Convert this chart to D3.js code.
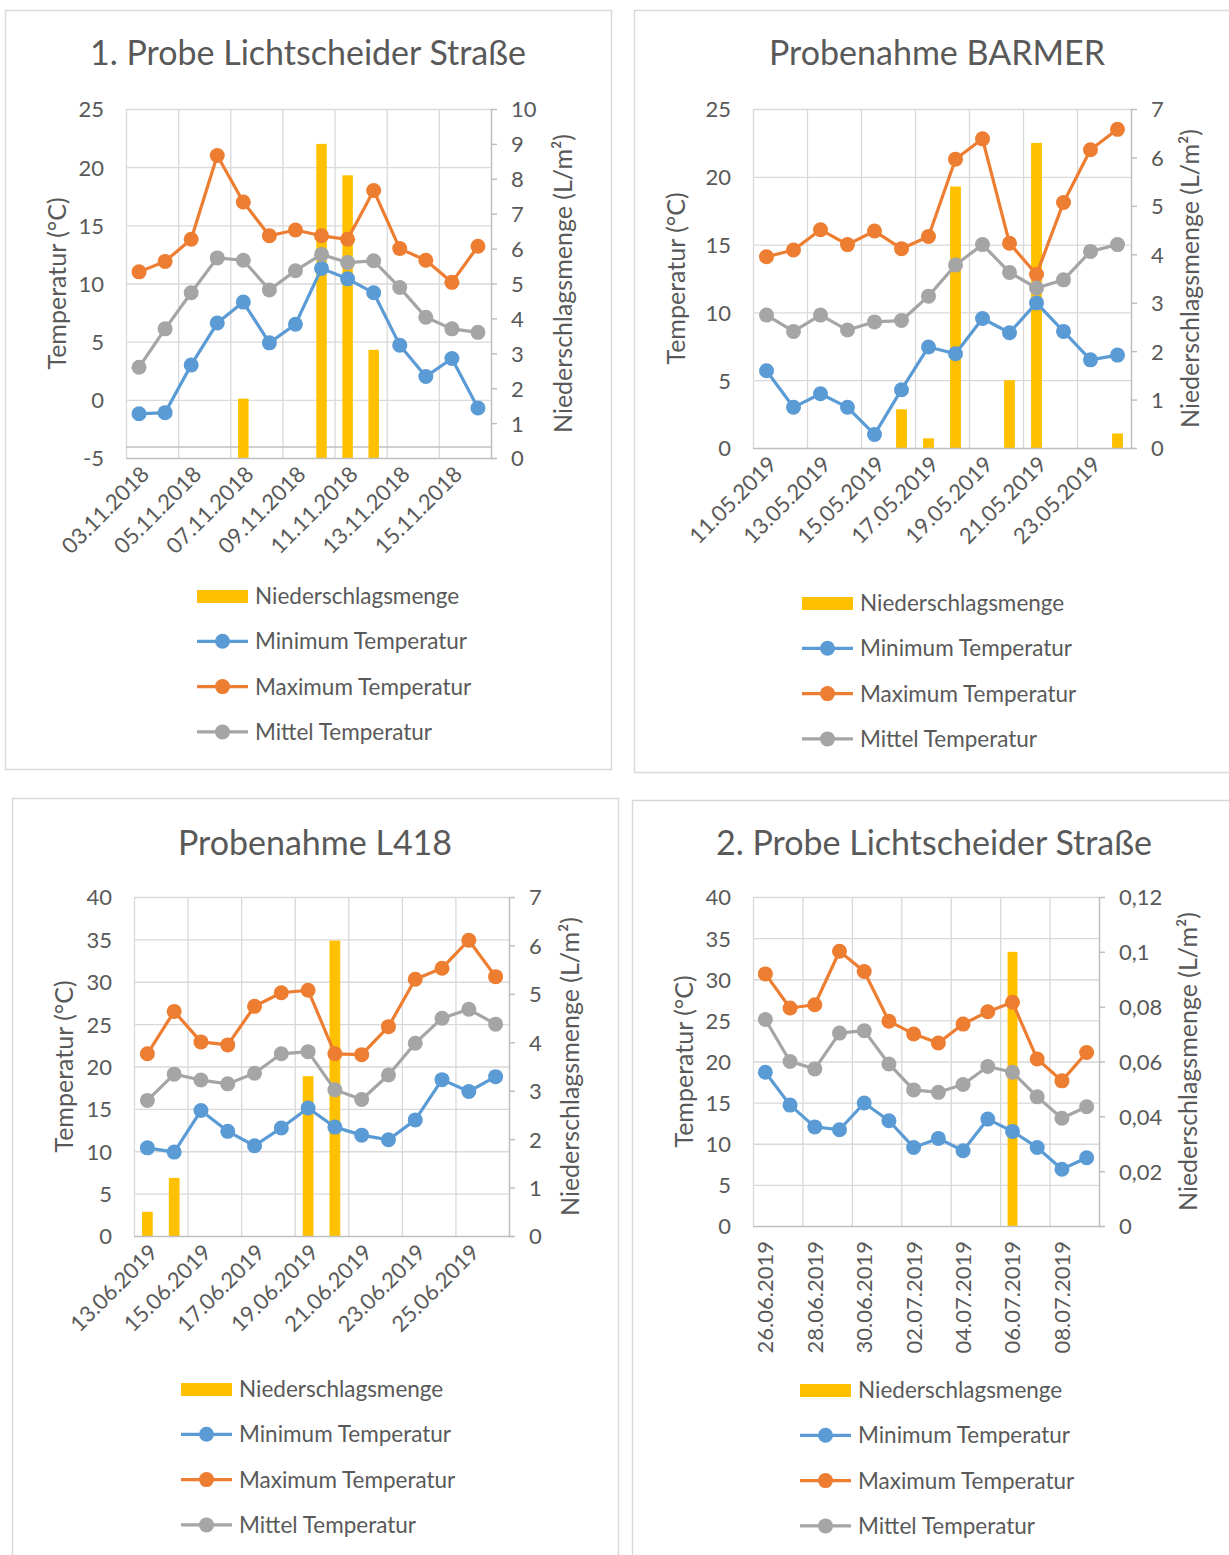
<!DOCTYPE html>
<html>
<head>
<meta charset="utf-8">
<script src="https://cdn.jsdelivr.net/npm/d3@7"></script>
<style>
  body { margin: 0; background: #fff; }
  svg text { font-family: Lato, "Open Sans", sans-serif; fill: #595959; }
</style>
</head>
<body>
<svg id="board" width="1229" height="1555"></svg>
<script>
// ---- 1. Probe Lichtscheider Straße (November 2018) ----
const dates1 = ["03.11.2018","04.11.2018","05.11.2018","06.11.2018","07.11.2018","08.11.2018","09.11.2018",
                "10.11.2018","11.11.2018","12.11.2018","13.11.2018","14.11.2018","15.11.2018","16.11.2018"];
const xLabels1 = ["03.11.2018","05.11.2018","07.11.2018","09.11.2018","11.11.2018","13.11.2018","15.11.2018"];
const rain1  = [0, 0, 0, 0, 1.7, 0, 0, 9.0, 8.1, 3.1, 0, 0, 0, 0];
const tmin1  = [-1.2, -1.1, 3.0, 6.6, 8.4, 4.9, 6.5, 11.3, 10.4, 9.2, 4.7, 2.0, 3.55, -0.7];
const tmax1  = [11.0, 11.9, 13.8, 21.0, 17.0, 14.1, 14.6, 14.1, 13.8, 18.0, 13.0, 12.0, 10.1, 13.2];
const tmean1 = [2.8, 6.1, 9.2, 12.2, 12.0, 9.45, 11.1, 12.5, 11.8, 11.95, 9.65, 7.1, 6.1, 5.8];
const tempTicks1 = [-5, 0, 5, 10, 15, 20, 25];
const rainTicks1 = [0, 1, 2, 3, 4, 5, 6, 7, 8, 9, 10];

// ---- Probenahme BARMER (May 2019) ----
const dates2 = ["11.05.2019","12.05.2019","13.05.2019","14.05.2019","15.05.2019","16.05.2019","17.05.2019",
                "18.05.2019","19.05.2019","20.05.2019","21.05.2019","22.05.2019","23.05.2019","24.05.2019"];
const xLabels2 = ["11.05.2019","13.05.2019","15.05.2019","17.05.2019","19.05.2019","21.05.2019","23.05.2019"];
const rain2  = [0, 0, 0, 0, 0, 0.8, 0.2, 5.4, 0, 1.4, 6.3, 0, 0, 0.3];
const tmin2  = [5.7, 3.0, 4.0, 3.0, 1.0, 4.3, 7.45, 6.95, 9.55, 8.5, 10.7, 8.6, 6.5, 6.85];
const tmax2  = [14.1, 14.6, 16.1, 15.0, 16.0, 14.7, 15.6, 21.3, 22.8, 15.1, 12.8, 18.1, 22.0, 23.5];
const tmean2 = [9.8, 8.6, 9.8, 8.7, 9.3, 9.4, 11.2, 13.5, 15.0, 12.95, 11.8, 12.4, 14.5, 15.0];
const tempTicks2 = [0, 5, 10, 15, 20, 25];
const rainTicks2 = [0, 1, 2, 3, 4, 5, 6, 7];

// ---- Probenahme L418 (June 2019) ----
const dates3 = ["13.06.2019","14.06.2019","15.06.2019","16.06.2019","17.06.2019","18.06.2019","19.06.2019",
                "20.06.2019","21.06.2019","22.06.2019","23.06.2019","24.06.2019","25.06.2019","26.06.2019"];
const xLabels3 = ["13.06.2019","15.06.2019","17.06.2019","19.06.2019","21.06.2019","23.06.2019","25.06.2019"];
const rain3  = [0.5, 1.2, 0, 0, 0, 0, 3.3, 6.1, 0, 0, 0, 0, 0, 0];
const tmin3  = [10.4, 9.9, 14.8, 12.35, 10.65, 12.75, 15.1, 12.85, 11.9, 11.35, 13.7, 18.45, 17.05, 18.8];
const tmax3  = [21.5, 26.5, 22.9, 22.55, 27.1, 28.7, 29.0, 21.5, 21.4, 24.7, 30.3, 31.6, 34.9, 30.6];
const tmean3 = [16.0, 19.1, 18.4, 17.95, 19.2, 21.5, 21.75, 17.25, 16.1, 19.0, 22.75, 25.7, 26.75, 25.0];
const tempTicks3 = [0, 5, 10, 15, 20, 25, 30, 35, 40];
const rainTicks3 = [0, 1, 2, 3, 4, 5, 6, 7];

// ---- 2. Probe Lichtscheider Straße (June/July 2019) ----
const dates4 = ["26.06.2019","27.06.2019","28.06.2019","29.06.2019","30.06.2019","01.07.2019","02.07.2019",
                "03.07.2019","04.07.2019","05.07.2019","06.07.2019","07.07.2019","08.07.2019","09.07.2019"];
const xLabels4 = ["26.06.2019","28.06.2019","30.06.2019","02.07.2019","04.07.2019","06.07.2019","08.07.2019"];
const rain4  = [0, 0, 0, 0, 0, 0, 0, 0, 0, 0, 0.1, 0, 0, 0];
const tmin4  = [18.7, 14.7, 12.05, 11.7, 14.95, 12.8, 9.55, 10.65, 9.15, 13.0, 11.5, 9.55, 6.9, 8.3];
const tmax4  = [30.65, 26.5, 26.9, 33.4, 30.95, 24.9, 23.35, 22.25, 24.55, 26.05, 27.2, 20.3, 17.65, 21.1];
const tmean4 = [25.1, 20.0, 19.1, 23.45, 23.75, 19.7, 16.55, 16.25, 17.2, 19.4, 18.7, 15.7, 13.1, 14.5];
const tempTicks4 = [0, 5, 10, 15, 20, 25, 30, 35, 40];
const rainTicks4 = [0, 0.02, 0.04, 0.06, 0.08, 0.1, 0.12];

const seriesNames = ["Niederschlagsmenge", "Minimum Temperatur", "Maximum Temperatur", "Mittel Temperatur"];

// Colours and styles
const C_RAIN = "#FFC000", C_MIN = "#5B9BD5", C_MAX = "#ED7D31", C_MEAN = "#A5A5A5";
const GRID = "#D9D9D9", AXIS = "#BFBFBF";

// Panel layout (positions in page pixels)
const panels = [
  { title: "1. Probe Lichtscheider Straße", dates: dates1, xLabels: xLabels1, rain: rain1,
    tmin: tmin1, tmax: tmax1, tmean: tmean1, tempTicks: tempTicks1, rainTicks: rainTicks1,
    extraLine: -4.05,
    box: [5, 10, 606, 759], plot: [126, 109, 491, 458], titleX: 308, titleY: 65,
    leftTitleX: 57, rightTitleX: 563, legend: [197, 596], angle: -45 },
  { title: "Probenahme BARMER", dates: dates2, xLabels: xLabels2, rain: rain2,
    tmin: tmin2, tmax: tmax2, tmean: tmean2, tempTicks: tempTicks2, rainTicks: rainTicks2,
    box: [634, 10, 620, 762], plot: [753, 109, 1131, 448], titleX: 937, titleY: 65,
    leftTitleX: 676, rightTitleX: 1190, legend: [802, 603], angle: -45 },
  { title: "Probenahme L418", dates: dates3, xLabels: xLabels3, rain: rain3,
    tmin: tmin3, tmax: tmax3, tmean: tmean3, tempTicks: tempTicks3, rainTicks: rainTicks3,
    box: [12, 798, 606, 770], plot: [134, 897, 509, 1236], titleX: 315, titleY: 855,
    leftTitleX: 64, rightTitleX: 570, legend: [181, 1389], angle: -45 },
  { title: "2. Probe Lichtscheider Straße", dates: dates4, xLabels: xLabels4, rain: rain4,
    tmin: tmin4, tmax: tmax4, tmean: tmean4, tempTicks: tempTicks4, rainTicks: rainTicks4,
    box: [632, 800, 620, 770], plot: [753, 897, 1099, 1226], titleX: 934, titleY: 855,
    leftTitleX: 684, rightTitleX: 1188, legend: [800, 1390], angle: -90 }
];

const svg = d3.select("#board");
const fmtComma = d => String(d).replace(".", ",");
const fmtPlain = d => String(d);

panels.forEach(p => {
  const [x0, y0, x1, y1] = p.plot;
  const g = svg.append("g");

  // chart frame
  g.append("rect")
    .attr("x", p.box[0] + 0.5).attr("y", p.box[1] + 0.5)
    .attr("width", p.box[2]).attr("height", p.box[3])
    .attr("fill", "#fff").attr("stroke", GRID).attr("stroke-width", 1.5);

  // title
  g.append("text").attr("x", p.titleX).attr("y", p.titleY)
    .attr("text-anchor", "middle").style("font-size", "34px").text(p.title);

  const tDom = d3.extent(p.tempTicks), rDom = d3.extent(p.rainTicks);
  const x = d3.scaleBand().domain(p.dates).range([x0, x1]);
  const yT = d3.scaleLinear().domain(tDom).range([y1, y0]);
  const yR = d3.scaleLinear().domain(rDom).range([y1, y0]);
  const bw = x.bandwidth();
  const cx = d => x(d) + bw / 2;

  // horizontal gridlines
  g.append("g").selectAll("line").data(p.tempTicks.filter(t => t !== tDom[0])).join("line")
    .attr("x1", x0).attr("x2", x1).attr("y1", d => yT(d) + 0.5).attr("y2", d => yT(d) + 0.5)
    .attr("stroke", GRID).attr("stroke-width", 1.3);

  // vertical gridlines every second category
  g.append("g").selectAll("line").data(p.dates.filter((d, i) => i % 2 === 0)).join("line")
    .attr("x1", d => x(d) + 0.5).attr("x2", d => x(d) + 0.5).attr("y1", y0).attr("y2", y1)
    .attr("stroke", GRID).attr("stroke-width", 1.3);

  if (p.extraLine !== undefined) {
    g.append("line").attr("x1", x0).attr("x2", x1)
      .attr("y1", yT(p.extraLine)).attr("y2", yT(p.extraLine))
      .attr("stroke", AXIS).attr("stroke-width", 1.5);
  }

  // precipitation bars (secondary axis)
  const barW = bw * 0.4;
  g.append("g").selectAll("rect").data(p.dates.map((d, i) => ({ d, v: p.rain[i] })).filter(o => o.v > 0))
    .join("rect")
    .attr("x", o => cx(o.d) - barW / 2).attr("width", barW)
    .attr("y", o => yR(o.v)).attr("height", o => yR(rDom[0]) - yR(o.v))
    .attr("fill", C_RAIN);

  // bottom axis line
  g.append("line").attr("x1", x0).attr("x2", x1 + 4).attr("y1", y1 + 0.5).attr("y2", y1 + 0.5)
    .attr("stroke", AXIS).attr("stroke-width", 1.5);

  // left axis
  const axL = g.append("g").attr("transform", `translate(${x0},0)`)
    .call(d3.axisLeft(yT).tickValues(p.tempTicks).tickSize(0).tickPadding(22).tickFormat(fmtPlain));
  axL.select(".domain").remove();
  axL.selectAll("text").style("font-size", "22px").attr("dy", "0.36em");

  // right axis
  const axR = g.append("g").attr("transform", `translate(${x1},0)`)
    .call(d3.axisRight(yR).tickValues(p.rainTicks).tickSize(6).tickPadding(14)
      .tickFormat(fmtComma));
  axR.select(".domain").attr("stroke", AXIS).attr("stroke-width", 1.5).attr("d", `M0.5,${y0}V${y1}`);
  axR.selectAll(".tick line").attr("stroke", AXIS).attr("stroke-width", 1.5);
  axR.selectAll("text").style("font-size", "22px").attr("dy", "0.36em");

  // category axis labels
  const axB = g.append("g").attr("transform", `translate(0,${y1})`)
    .call(d3.axisBottom(x).tickValues(p.xLabels).tickSize(0));
  axB.select(".domain").remove();
  const lbl = axB.selectAll("text").style("font-size", "22px")
    .attr("text-anchor", "end").attr("x", 0).attr("y", 0).attr("dy", "0.36em");
  if (p.angle === -45) lbl.attr("transform", "translate(6,12) rotate(-45)");
  else lbl.attr("transform", "translate(0,15) rotate(-90)");

  // temperature series
  const series = [
    { v: p.tmin, c: C_MIN }, { v: p.tmax, c: C_MAX }, { v: p.tmean, c: C_MEAN }
  ];
  series.forEach(s => {
    const pts = p.dates.map((d, i) => [cx(d), yT(s.v[i])]);
    g.append("path").attr("d", d3.line()(pts)).attr("fill", "none")
      .attr("stroke", s.c).attr("stroke-width", 3.2).attr("stroke-linejoin", "round");
    g.append("g").selectAll("circle").data(pts).join("circle")
      .attr("cx", d => d[0]).attr("cy", d => d[1]).attr("r", 7.5).attr("fill", s.c);
  });

  // axis titles
  const midY = (y0 + y1) / 2;
  g.append("text").attr("transform", `translate(${p.leftTitleX},${midY}) rotate(-90)`)
    .attr("text-anchor", "middle").attr("dy", "0.36em").style("font-size", "25px")
    .text("Temperatur (°C)");
  g.append("text").attr("transform", `translate(${p.rightTitleX},${midY}) rotate(-90)`)
    .attr("text-anchor", "middle").attr("dy", "0.36em").style("font-size", "25px")
    .text("Niederschlagsmenge (L/m²)");

  // legend
  const [lx, ly] = p.legend;
  const colors = [C_RAIN, C_MIN, C_MAX, C_MEAN];
  seriesNames.forEach((name, i) => {
    const yy = ly + i * 45.3;
    const lg = g.append("g");
    if (i === 0) {
      lg.append("rect").attr("x", lx).attr("y", yy - 6).attr("width", 51).attr("height", 13).attr("fill", colors[i]);
    } else {
      lg.append("line").attr("x1", lx).attr("x2", lx + 51).attr("y1", yy).attr("y2", yy)
        .attr("stroke", colors[i]).attr("stroke-width", 3.2);
      lg.append("circle").attr("cx", lx + 25.5).attr("cy", yy).attr("r", 7.5).attr("fill", colors[i]);
    }
    lg.append("text").attr("x", lx + 58).attr("y", yy).attr("dy", "0.36em")
      .style("font-size", "22.5px").text(name);
  });
});
</script>
</body>
</html>
